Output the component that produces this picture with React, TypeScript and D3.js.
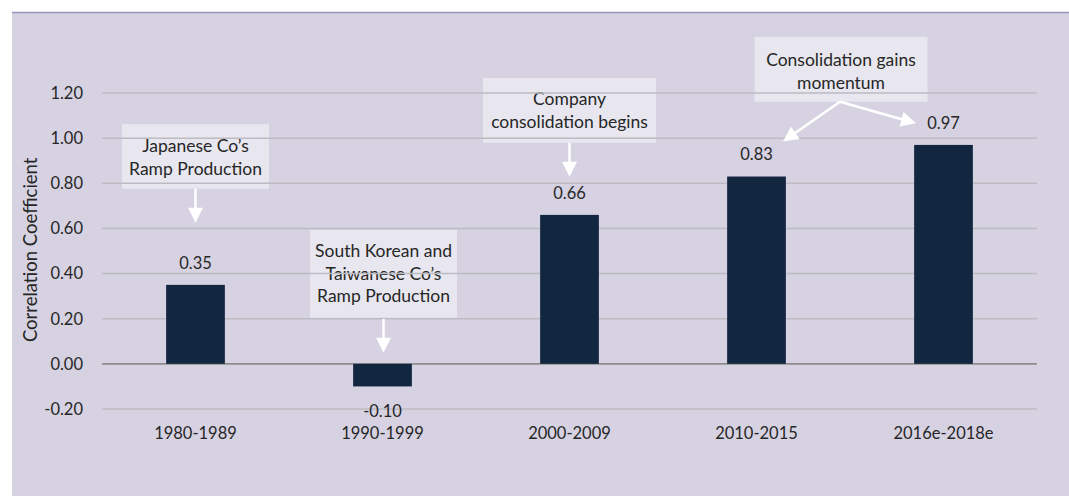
import React from "react";
import * as d3 from "d3";

const categories = ["1980-1989", "1990-1999", "2000-2009", "2010-2015", "2016e-2018e"];
const values = [0.35, -0.1, 0.66, 0.83, 0.97];
const yTicks = [-0.2, 0, 0.2, 0.4, 0.6, 0.8, 1.0, 1.2];
const yTitle = "Correlation Coefficient";
const noteJapan = ["Japanese Co’s", "Ramp Production"];
const noteKorea = ["South Korean and", "Taiwanese Co’s", "Ramp Production"];
const noteCompany = ["Company", "consolidation begins"];
const noteMomentum = ["Consolidation gains", "momentum"];

const W = 1069;
const H = 496;
const FONT = "Lato, 'Open Sans', sans-serif";
const TEXT = "#262626";

function Arrow({ x1, y1, x2, y2 }: { x1: number; y1: number; x2: number; y2: number }) {
  const dx = x2 - x1;
  const dy = y2 - y1;
  const len = Math.sqrt(dx * dx + dy * dy);
  const ux = dx / len;
  const uy = dy / len;
  const headL = 15;
  const headW = 7.5;
  const bx = x2 - ux * headL;
  const by = y2 - uy * headL;
  const px = -uy;
  const py = ux;
  const pts = [
    [x2, y2],
    [bx + px * headW, by + py * headW],
    [bx - px * headW, by - py * headW],
  ];
  return (
    <g>
      <line x1={x1} y1={y1} x2={bx + ux * 2} y2={by + uy * 2} stroke="#fff" strokeWidth={2.5} />
      <path d={d3.line()(pts as [number, number][]) + "Z"} fill="#fff" />
    </g>
  );
}

export default function App() {
  const x = d3
    .scaleBand<string>()
    .domain(categories)
    .range([102, 1037])
    .paddingInner(0.686)
    .paddingOuter(0.343);
  const y = d3.scaleLinear().domain([-0.2, 1.2]).range([409, 93]);
  const bw = x.bandwidth();
  const cx = (i: number) => (x(categories[i]) as number) + bw / 2;

  const boxes = [
    { i: 0, lines: noteJapan, w: 147, top: 124.3, bottom: 188.7, first: 145.7, dx: 0 },
    { i: 1, lines: noteKorea, w: 147, top: 230, bottom: 317.7, first: 250.7, dx: 1 },
    { i: 2, lines: noteCompany, w: 173, top: 78, bottom: 142.7, first: 99.3, dx: 0 },
    { i: 3, lines: noteMomentum, w: 173, top: 37, bottom: 101.7, first: 60, dx: 84.5 },
  ];
  const lineGap = 22.8;

  return (
    <svg
      width={W}
      height={H}
      style={{ position: "absolute", left: 0, top: 0, fontFamily: FONT }}
    >
      <rect x={0} y={0} width={W} height={H} fill="#ffffff" />
      <rect x={12} y={12} width={W - 12} height={H - 12} fill="#D6D2E2" />
      <line x1={12} x2={W} y1={12.5} y2={12.5} stroke="#9C94BC" strokeWidth={1.5} />

      {/* annotation boxes */}
      {boxes.map((b, k) => {
        const c = cx(b.i) + b.dx;
        return (
          <g key={"b" + k}>
            <rect x={c - b.w / 2} y={b.top} width={b.w} height={b.bottom - b.top} fill="#E8E7EF" />
            {b.lines.map((t, j) => (
              <text
                key={j}
                x={c}
                y={b.first + j * lineGap + 6}
                textAnchor="middle"
                fontSize={17.5}
                fill={TEXT}
              >
                {t}
              </text>
            ))}
          </g>
        );
      })}

      {/* gridlines */}
      {yTicks.map((t) => (
        <line
          key={"g" + t}
          x1={102}
          x2={1037}
          y1={y(t)}
          y2={y(t)}
          stroke={t === 0 ? "#8C8C8E" : "#BDBBC2"}
          strokeWidth={t === 0 ? 1.8 : 1.5}
        />
      ))}

      {/* y tick labels */}
      {yTicks.map((t) => (
        <text
          key={"t" + t}
          x={83}
          y={y(t) + 5.8}
          textAnchor="end"
          fontSize={16.5}
          fill={TEXT}
        >
          {d3.format(".2f")(t).replace("−", "-")}
        </text>
      ))}

      <text
        transform={`translate(36.5,${(158 + 341.7) / 2}) rotate(-90)`}
        textAnchor="middle"
        fontSize={18.5}
        fill={TEXT}
      >
        {yTitle}
      </text>

      {/* bars */}
      {values.map((v, i) => (
        <rect
          key={"r" + i}
          x={x(categories[i])}
          y={Math.min(y(v), y(0))}
          width={bw}
          height={Math.abs(y(v) - y(0))}
          fill="#132640"
        />
      ))}

      {/* value labels */}
      {values.map((v, i) => (
        <text
          key={"v" + i}
          x={cx(i)}
          y={v >= 0 ? y(v) - 22 + 5.8 : y(v) + 25 + 5.8}
          textAnchor="middle"
          fontSize={16.5}
          fill={TEXT}
        >
          {d3.format(".2f")(v).replace("−", "-")}
        </text>
      ))}

      {/* category labels */}
      {categories.map((c, i) => (
        <text key={"c" + i} x={cx(i)} y={438.8} textAnchor="middle" fontSize={16.5} fill={TEXT}>
          {c}
        </text>
      ))}

      {/* arrows */}
      <Arrow x1={cx(0)} y1={188.7} x2={cx(0)} y2={222.7} />
      <Arrow x1={cx(1) + 1} y1={319} x2={cx(1) + 1} y2={352.7} />
      <Arrow x1={cx(2)} y1={142.7} x2={cx(2)} y2={176.7} />
      <Arrow x1={cx(3) + 83.5} y1={101.7} x2={cx(3) + 26.5} y2={141.5} />
      <Arrow x1={cx(3) + 83.5} y1={101.7} x2={cx(4) - 27.5} y2={123.3} />
    </svg>
  );
}
